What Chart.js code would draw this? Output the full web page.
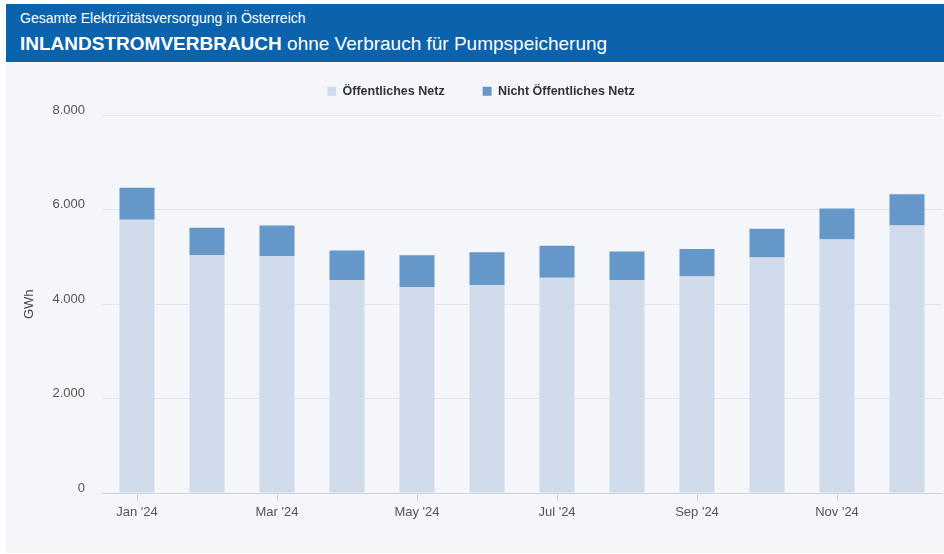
<!DOCTYPE html>
<html>
<head>
<meta charset="utf-8">
<script src="https://cdn.jsdelivr.net/npm/chart.js@4.4.1/dist/chart.umd.min.js"></script>
<style>
  html, body { margin: 0; padding: 0; background: #fff; }
  body { width: 944px; height: 554px; position: relative; overflow: hidden; font-family: "Liberation Sans", Arial, sans-serif; }
  .kopf { position: absolute; left: 6px; top: 4px; width: 938px; height: 58px; background: #0b63ad; color: #fff; }
  .kopf .sub { position: absolute; left: 14px; top: 6px; font-size: 14px; }
  .kopf .titel { position: absolute; left: 14px; top: 29px; font-size: 19px; }
  .kopf .titel b { font-weight: bold; }
  .flaeche { position: absolute; left: 6px; top: 62px; width: 938px; height: 491px; background: #f4f6fa; }
</style>
</head>
<body>
<div class="kopf">
  <div class="sub">Gesamte Elektrizitätsversorgung in Österreich</div>
  <div class="titel"><b>INLANDSTROMVERBRAUCH</b> ohne Verbrauch für Pumpspeicherung</div>
</div>
<div class="flaeche"><canvas id="grafik"></canvas></div>
<script>
const monate = ["Jan '24", "Feb '24", "Mar '24", "Apr '24", "May '24", "Jun '24", "Jul '24", "Aug '24", "Sep '24", "Oct '24", "Nov '24", "Dec '24"];
const oeffentlichesNetz = [5790, 5040, 5020, 4510, 4360, 4410, 4560, 4510, 4590, 4990, 5370, 5670];
const nichtOeffentlichesNetz = [680, 580, 650, 630, 680, 690, 680, 610, 580, 610, 660, 660];
const yTicks = [0, 2000, 4000, 6000, 8000];

const tausender = (v) => String(v).replace(/\B(?=(\d{3})+(?!\d))/g, '.');

// etwas mehr Platz unter der Legende
const legendeAbstand = {
    id: 'legendeAbstand',
    beforeInit(chart) {
        const fit = chart.legend.fit;
        chart.legend.fit = function () {
            fit.bind(chart.legend)();
            this.height += 8;
        };
    }
};

const ctx = document.getElementById('grafik');
new Chart(ctx, {
    type: 'bar',
    data: {
        labels: monate,
        datasets: [{
            label: 'Öffentliches Netz',
            data: oeffentlichesNetz,
            backgroundColor: '#d0dcec',
            borderWidth: 0
        }, {
            label: 'Nicht Öffentliches Netz',
            data: nichtOeffentlichesNetz,
            backgroundColor: '#6597c9',
            borderWidth: 0
        }]
    },
    plugins: [legendeAbstand],
    options: {
        responsive: true,
        maintainAspectRatio: false,
        animation: false,
        datasets: {
            bar: { barPercentage: 0.5, categoryPercentage: 1.0 }
        },
        layout: {
            padding: { top: -15, right: 2, bottom: 20, left: 14 }
        },
        plugins: {
            legend: {
                position: 'top',
                labels: {
                    boxWidth: 9,
                    boxHeight: 9,
                    padding: 38,
                    color: '#333',
                    font: { family: 'Liberation Sans', size: 12.5, weight: 'bold' }
                }
            },
            tooltip: { enabled: false }
        },
        scales: {
            x: {
                stacked: true,
                grid: {
                    offset: false,
                    drawOnChartArea: false,
                    drawTicks: true,
                    tickLength: 8,
                    color: (c) => (c.index % 2 === 0 ? '#cfd5de' : 'rgba(0,0,0,0)')
                },
                border: { color: '#cfd5de', width: 1 },
                ticks: {
                    autoSkip: false,
                    maxRotation: 0,
                    padding: 4,
                    color: '#555',
                    font: { family: 'Liberation Sans', size: 13 },
                    callback: (v, i) => (i % 2 === 0 ? monate[i] : '')
                },
                afterFit: (s) => { s.height = 40; }
            },
            y: {
                stacked: true,
                min: 0,
                max: 8000,
                afterBuildTicks: (s) => { s.ticks = yTicks.map(v => ({ value: v })); },
                grid: { color: '#e4e8ee', drawTicks: false },
                border: { display: false },
                ticks: {
                    padding: 17,
                    labelOffset: -5,
                    color: '#555',
                    font: { family: 'Liberation Sans', size: 13 },
                    callback: (v) => tausender(v)
                },
                title: {
                    display: true,
                    text: 'GWh',
                    color: '#444',
                    padding: { top: 2, bottom: 0 },
                    font: { family: 'Liberation Sans', size: 13 }
                },
                afterFit: (s) => { s.width = 82; }
            }
        }
    }
});
</script>
</body>
</html>
